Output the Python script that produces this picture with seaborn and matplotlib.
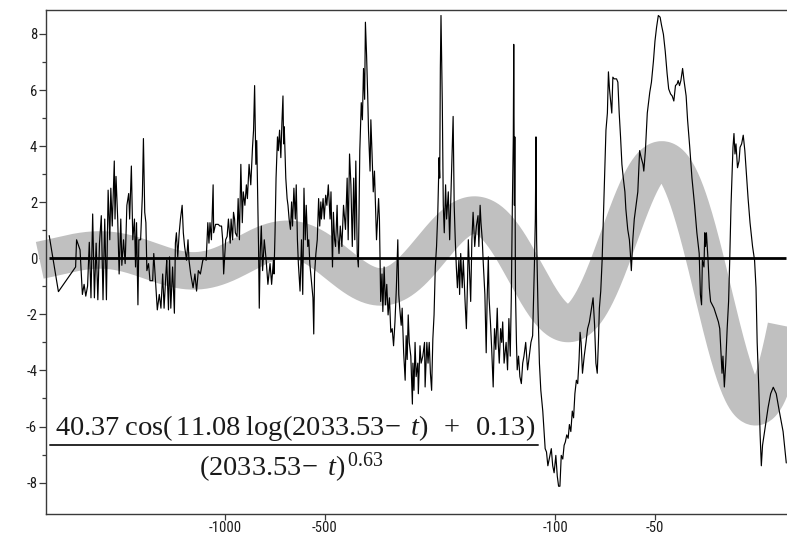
import numpy as np
import pandas as pd
import matplotlib
matplotlib.use("Agg")
import matplotlib.pyplot as plt
from matplotlib import font_manager as fm
import seaborn as sns

# Time to the critical date (t - tc, in years) and the detrended signal
TAU = [-3408, -3196, -2835, -2816, -2749, -2704, -2672, -2641, -2608, -2577, -2547, -2517, -2487,
       -2457, -2428, -2400, -2370, -2342, -2314, -2287, -2260, -2234, -2218, -2196, -2165, -2154,
       -2139, -2114, -2093, -2069, -2054, -2030, -2007, -1983, -1958, -1945, -1922, -1903, -1881,
       -1867, -1854, -1836, -1824, -1802, -1780, -1767, -1751, -1737, -1725, -1705, -1688, -1657,
       -1644, -1625, -1610, -1604, -1582, -1564, -1545, -1530, -1509, -1502, -1484, -1473, -1460,
       -1442, -1424, -1414, -1404, -1391, -1377, -1365, -1349, -1338, -1326, -1308, -1295, -1286,
       -1271, -1250, -1234, -1220, -1205, -1188, -1168, -1154, -1141, -1128, -1119, -1111, -1100,
       -1087, -1083, -1069, -1049, -1037, -1025, -1017, -1010, -1003, -996, -986, -977, -965, -959,
       -949, -943, -936, -931, -920, -913, -905, -896, -887, -881, -871, -862, -856, -846, -836,
       -826, -820, -814, -807, -802, -792, -788, -783, -777, -770, -761, -751, -742, -731, -723,
       -714, -711, -706, -701, -694, -690, -684, -678, -673, -668, -665, -662, -655, -649, -645,
       -640, -634, -629, -625, -619, -613, -609, -604, -600, -593, -587, -582, -577, -572, -568,
       -562, -558, -554, -549, -542, -539, -536, -531, -526, -521, -517, -513, -511, -505, -501,
       -496, -492, -487, -481, -478, -473, -470, -466, -463, -458, -456, -452, -448, -443, -438,
       -432, -427, -424, -420, -416, -412, -408, -405, -402, -398, -395, -391, -387, -384, -381,
       -378, -376, -373, -370, -368, -364, -362, -359, -356, -353, -348, -343, -341, -338, -335,
       -333, -330, -327, -324, -321, -318, -315, -312, -309, -306, -303, -300, -298, -296, -293,
       -291, -288, -285, -283, -281, -279, -277, -274, -271, -270, -268, -266, -264, -261, -260,
       -257, -255, -252, -249, -248, -245, -243, -241, -239, -237, -235, -233, -231, -229, -227,
       -225, -224, -223, -222, -220, -218.5, -217, -215, -213.5, -211, -209, -207, -205, -204,
       -202.5, -201, -199.5, -198, -196, -195, -193.5, -191.5, -190, -187.7, -186, -184.5, -183.5,
       -182.5, -180.5, -179, -177.5, -175.5, -173.5, -171.5, -170.5, -169, -168, -166.5, -165.5,
       -163.5, -162, -161, -159.6, -158.8, -157.3, -155.9, -154.3, -152.9, -151.5, -150, -149,
       -147.9, -146.5, -145.4, -144.4, -143, -141, -139.6, -138.3, -137, -136, -135, -134.1,
       -133.7, -133.1, -132.7, -132.1, -131.2, -130.5, -129.3, -128.1, -126.8, -125.6, -124.5,
       -123, -121.4, -120, -118.6, -117.2, -115.8, -115, -114.5, -114, -112.9, -111.8, -110.7,
       -109.2, -107.4, -106.4, -105.4, -104.4, -102.9, -101.9, -100.9, -99.7, -98.7, -97.8, -96.9,
       -96, -95, -94.1, -93.3, -92.4, -91.5, -90.7, -89.8, -88.9, -88.1, -87.3, -86.4, -85.6,
       -84.8, -84.2, -83.6, -82.8, -81.8, -80.8, -79.9, -78.9, -76.9, -76.1, -75.4, -74.7, -74.1,
       -73.6, -72.9, -72.2, -71.5, -70.9, -70.3, -69.6, -69.1, -68.6, -68.0, -67.5, -67.0, -66.4,
       -65.3, -64.7, -64.1, -63.5, -62.9, -62.3, -61.6, -61.2, -60.4, -59.7, -59.3, -58.9, -58.3,
       -57.7, -57.0, -56.3, -55.6, -55.0, -54.3, -54.0, -53.4, -52.7, -51.8, -51.2, -50.5, -49.95,
       -49.4, -48.8, -48.2, -47.7, -47.1, -46.5, -45.9, -45.4, -44.8, -44.3, -43.8, -43.3, -42.8,
       -42.5, -42.1, -41.7, -41.2, -40.8, -40.2, -39.8, -39.2, -38.6, -37.9, -37.3, -36.7, -36.4,
       -36.1, -35.9, -35.5, -35.3, -35.1, -34.9, -34.5, -34.2, -33.9, -33.5, -33.1, -32.6, -32.1,
       -31.8, -31.5, -31.3, -31.1, -30.8, -30.5, -30.2, -29.9, -29.65, -29.4, -29.0, -28.8, -28.6,
       -28.4, -28.1, -27.8, -27.6, -27.3, -27.0, -26.7, -26.4, -26.1, -25.75, -25.3, -24.95, -24.7,
       -24.5, -24.25, -24.0, -23.8, -23.6, -23.1, -22.7, -22.3, -21.9, -21.45, -21.0, -20.45, -20.0]

SIGNAL = [0.81, -1.19, -0.31, 0.66, 0.30, -1.29, -0.93, -1.35, -0.99, 0.57, -1.41, 1.58, -1.41,
          0.54, -1.48, 0.54, 1.52, -1.48, 1.40, -1.48, 2.43, 0.66, 2.50, 1.15, 3.47, 1.40,
          2.92, 1.40, -0.56, 1.40, -0.25, 0.66, -0.19, 1.89, 2.31, 1.40, 3.29, 0.66, 1.40,
          -0.31, 1.27, -1.66, 0.66, 0.66, 2.25, 4.27, 1.64, 1.27, -0.44, -0.19, -0.80, -0.80,
          0.17, -0.80, -1.54, -1.84, -1.29, -1.78, -0.56, -1.78, -0.44, -0.07, -1.84, 0.05, -1.78,
          -0.31, -1.96, 0.54, 0.91, 0.05, 0.91, 1.40, 1.89, 0.91, 0.42, -0.07, 0.66, -0.07,
          -0.56, -1.05, -0.56, -1.17, -0.44, -0.56, -0.07, -0.01, -0.07, 1.27, 0.54, 1.27, 0.66,
          2.62, 0.91, 1.21, 1.21, 1.15, 1.15, 0.66, -0.56, 0.05, 0.66, 0.78, 1.40, 0.54, 1.40,
          0.66, 1.64, 1.40, 0.91, 0.78, 2.13, 0.66, 3.35, 1.27, 2.37, 1.89, 2.62, 2.13, 3.35, 2.62,
          3.96, 4.57, 6.16, 3.35, 4.20, 0.42, -1.78, 0.17, 1.15, -0.44, 0.66, -0.07, -0.93, -0.19, -0.93,
          -0.07, -0.56, 0.91, 2.86, 4.33, 3.84, 4.57, 3.59, 4.82, 5.79, 4.08, 4.69, 2.86, 2.13, 1.89,
          1.40, 1.03, 2.01, 1.15, 2.50, 1.40, 2.62, 0.66, -0.19, -1.17, 0.66, -1.29, 2.50, 0.66, 1.89,
          0.42, 0.66, -0.19, -0.68, -1.41, -2.70, -0.56, 0.17, 0.66, 2.13, 1.15, 2.01, 1.40, 2.13, 1.40,
          2.25, 1.89, 2.62, 1.40, 2.37, -0.31, 1.64, 0.66, 0.42, 1.89, 0.91, 0.17, 1.15, 0.42, 1.89,
          1.03, 2.86, 0.66, 3.72, 2.62, 0.42, 2.86, 0.66, 3.47, 0.17, -0.31, 3.84, 5.55, 4.94, 6.77,
          5.67, 8.42, 7.26, 5.79, 4.57, 3.11, 4.94, 3.72, 2.37, 3.11, 0.66, 2.13, 1.40, -1.54, -0.56,
          -1.90, -0.31, -1.66, -0.93, -2.02, -1.41, -2.64, -2.51, -3.12, -2.27, -1.05, 0.66, -1.29, -1.78, -2.39,
          -1.78, -3.37, -4.35, -2.76, -3.61, -2.02, -3.00, -3.49, -5.20, -3.74, -4.71, -3.00, -4.22, -3.74, -4.83,
          -3.12, -3.74, -3.49, -3.00, -4.59, -3.00, -3.74, -3.00, -4.10, -4.71, -2.88, -2.02, -0.31, 0.42, 1.64,
          3.59, 2.86, 6.77, 8.66, 5.55, 1.89, 0.91, 2.62, 1.40, 2.37, 0.66, 2.37, 4.08, 5.06,
          1.89, 0.66, -0.31, -1.05, -0.07, -1.29, 0.17, -1.05, -0.07, -1.54, -2.51, -0.80, 0.66,
          -0.07, -1.54, 0.66, 1.64, 0.42, 1.15, 1.52, 0.42, 1.89, 1.27, 0.66, -0.07,
          -1.29, -3.37, -1.54, 0.05, -1.41, -2.27, -3.25, -4.59, -2.51, -3.25, -1.78, -3.00,
          -3.74, -2.51, -3.00, -2.27, -3.74, -3.00, -3.98, -2.15, -3.49, -1.41, 1.89, 4.33,
          7.63, 1.89, 4.33, -1.17, -3.00, -3.98, -3.49, -4.22, -4.47, -3.74, -3.49,
          -3.00, -3.98, -3.49, -3.00, -2.76, -0.31, 1.40, 4.33, 0.66, -1.78, -3.74, -4.71,
          -5.45, -6.79, -6.91, -7.40, -7.16, -6.79, -7.40, -7.65, -7.03, -7.77, -8.13, -8.13,
          -7.03, -7.16, -6.67, -6.55, -6.30, -6.42, -5.93, -6.18, -5.45, -5.69, -4.83, -4.35, -4.47,
          -3.61, -2.64, -3.00, -4.10, -3.49, -3.00, -2.51, -2.27, -1.41, -2.39, -3.74, -4.10, -3.00,
          -1.78, -1.17, -0.07, 1.64, 3.11, 4.57, 5.18, 6.65, 6.04, 5.55, 5.18, 6.46, 6.40,
          6.40, 6.28, 5.18, 4.33, 3.35, 2.86, 2.37, 1.76, 1.03, 0.66, 0.17, -0.44, 0.66,
          1.40, 1.89, 2.37, 3.84, 3.59, 3.35, 3.11, 3.84, 5.18, 5.92, 6.28, 7.02, 7.75,
          8.24, 8.66, 8.60, 8.30, 7.99, 7.38, 6.59, 6.04, 5.86, 5.79, 5.61, 6.16, 6.22,
          6.34, 6.16, 6.34, 6.77, 6.34, 5.79, 4.94, 3.96, 2.86, 1.89, 0.91, 0.17, -1.29,
          -1.66, -0.07, -0.31, 0.91, 0.42, 0.91, -0.07, -1.05, -1.54, -1.66, -1.78, -2.02, -2.27,
          -2.51, -3.49, -4.10, -3.49, -4.59, -3.74, -2.51, -1.54, 0.05, 1.89, 3.96, 4.45, 3.72,
          4.08, 3.23, 3.47, 3.96, 4.08, 4.39, 3.84, 2.98, 2.13, 1.27, 0.42, -0.07, -1.05,
          -3.00, -4.47, -6.30, -7.40, -6.67, -5.93, -5.32, -4.83, -4.60, -4.83, -5.45, -6.18, -7.30]

# Log-periodic fit parameters shown in the annotation
AMP, OMEGA, PHI, TC, BETA = 40.37, 11.08, 0.13, 2033.53, 0.63
FIT_SPAN = (-3640, -20)

X_TICKS = [-1000, -500, -100, -50]
X_TICK_LABELS = ["-1000", "-500", "-100", "-50"]
Y_MAJOR = [-8, -6, -4, -2, 0, 2, 4, 6, 8]
Y_MINOR = [-7, -5, -3, -1, 1, 3, 5, 7]

sns.set_theme(style="white")
plt.rcParams["axes.unicode_minus"] = False
plt.rcParams["mathtext.fontset"] = "custom"
plt.rcParams["mathtext.rm"] = "Liberation Serif"
plt.rcParams["mathtext.it"] = "Liberation Serif:italic"


def _is_regular(f):
    return f.style == "normal" and f.weight in (400, "normal", "regular", "book")


def narrow_sans():
    """Pick an upright condensed sans-serif face for tick labels if one is installed."""
    narrow = ("condensed", "semi-condensed", "extra-condensed", "ultra-condensed")
    for name in ("Liberation Sans Narrow", "Roboto Condensed", "Open Sans Condensed"):
        for f in fm.fontManager.ttflist:
            if f.name == name and _is_regular(f):
                return fm.FontProperties(fname=f.fname)
    for fam in ("DejaVu Sans", "Noto Sans", "Open Sans", "Roboto"):
        for f in fm.fontManager.ttflist:
            if f.name == fam and str(f.stretch) in narrow and _is_regular(f):
                return fm.FontProperties(fname=f.fname)
    return fm.FontProperties(family="Liberation Sans")


tick_font = narrow_sans()
tick_font.set_size(10.5)

W, H = 787, 534
fig = plt.figure(figsize=(W / 100, H / 100), dpi=100)
left, right, top, bottom = 46.2, 787.0, 9.6, 513.7
ax = fig.add_axes([left / W, 1 - bottom / H, (right - left) / W, (bottom - top) / H])


def fwd(x):
    x = np.asarray(x, dtype=float)
    return -np.log(np.clip(-x, 1e-9, None))


def inv(y):
    return -np.exp(-np.asarray(y, dtype=float))


ax.set_xscale("function", functions=(fwd, inv))

# fitted log-periodic curve drawn as a wide grey band
fit_tau = -np.geomspace(-FIT_SPAN[0], -FIT_SPAN[1], 900)
fit_val = AMP * np.cos(OMEGA * np.log10(TC - (TC + fit_tau)) + PHI) / (-fit_tau) ** BETA
fit_df = pd.DataFrame({"tau": fit_tau, "fit": fit_val})
sns.lineplot(data=fit_df, x="tau", y="fit", ax=ax, color="#c0c0c0", lw=27,
             sort=False, estimator=None, solid_capstyle="butt", clip_on=False, zorder=1)

# zero reference line over the span of the data
ax.plot([TAU[0], TAU[-1]], [0, 0], color="black", lw=2.0, solid_capstyle="butt", zorder=2)

data_df = pd.DataFrame({"tau": TAU, "signal": SIGNAL})
sns.lineplot(data=data_df, x="tau", y="signal", ax=ax, color="black", lw=0.85,
             sort=False, estimator=None, zorder=3)

ax.set_xlim(-3480, -19.9)
ax.set_ylim(-9.11, 8.87)
ax.set_xlabel("")
ax.set_ylabel("")

ax.set_xticks(X_TICKS)
ax.set_xticklabels(X_TICK_LABELS)
ax.xaxis.set_minor_locator(matplotlib.ticker.NullLocator())
ax.set_yticks(Y_MAJOR)
ax.set_yticklabels([str(v) for v in Y_MAJOR])
ax.set_yticks(Y_MINOR, minor=True)

for sp in ("left", "top", "bottom"):
    ax.spines[sp].set_color("#3a3a3a")
    ax.spines[sp].set_linewidth(1.0)
ax.spines["right"].set_visible(False)

ax.tick_params(axis="both", which="both", direction="out", color="#3a3a3a", width=0.9,
               labelcolor="#1a1a1a")
ax.tick_params(axis="y", which="major", length=5, pad=1.5, left=True)
ax.tick_params(axis="y", which="minor", length=3, left=True)
ax.tick_params(axis="x", which="major", length=4, pad=1, bottom=True)
for lab in ax.get_xticklabels() + ax.get_yticklabels():
    lab.set_fontproperties(tick_font)

# fit formula written as a fraction
num = r"$40.37\;\mathrm{cos}(\,11.08\;\mathrm{log}(2033.53\!-\;t)\;\;+\;\;0.13)$"
den = r"$(2033.53\!-\;t)^{\,0.63}$"
fig.text(295.5 / W, 1 - 435 / H, num, ha="center", va="baseline", fontsize=20.5, color="#1a1a1a")
fig.text(291 / W, 1 - 475.5 / H, den, ha="center", va="baseline", fontsize=20.5, color="#1a1a1a")
fig.add_artist(plt.Line2D([50 / W, 538 / W], [1 - 445.3 / H, 1 - 445.3 / H],
                          transform=fig.transFigure, color="#2a2a2a", lw=1.4))

fig.savefig("out.png", dpi=100)
